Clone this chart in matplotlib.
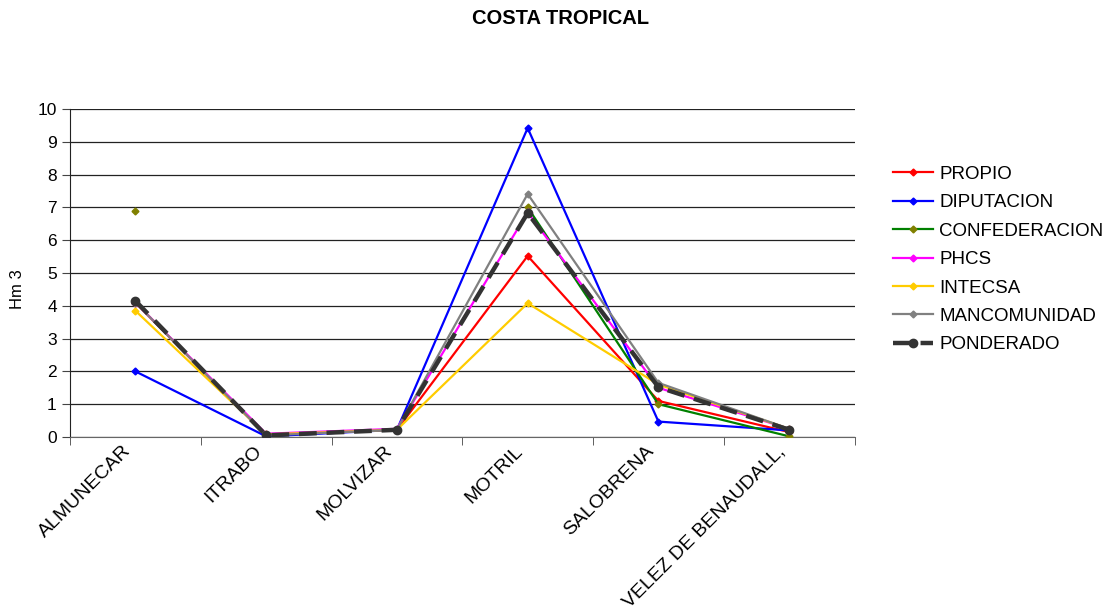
import numpy as np
import matplotlib
matplotlib.use("Agg")
import matplotlib.pyplot as plt
from matplotlib.transforms import ScaledTranslation

plt.rcParams['font.family'] = ['Liberation Sans', 'DejaVu Sans']

nan = np.nan
categories = ["ALMUNECAR", "ITRABO", "MOLVIZAR", "MOTRIL", "SALOBRENA", "VELEZ DE BENAUDALL,"]

propio = [4.10, 0.05, 0.22, 5.52, 1.10, 0.15]
diputacion = [2.00, 0.02, 0.22, 9.42, 0.47, 0.20]
confederacion = [6.88, nan, nan, 7.00, 1.00, 0.02]
phcs = [4.10, 0.10, 0.25, 6.85, 1.50, 0.25]
intecsa = [3.85, 0.08, 0.22, 4.08, 1.60, 0.25]
mancomunidad = [4.10, 0.05, 0.22, 7.41, 1.65, 0.25]
ponderado = [4.15, 0.05, 0.22, 6.83, 1.52, 0.22]

series = [
    ("PROPIO", propio, "#ff0000", "#ff0000"),
    ("DIPUTACION", diputacion, "#0000ff", "#0000ff"),
    ("CONFEDERACION", confederacion, "#008000", "#808000"),
    ("PHCS", phcs, "#ff00ff", "#ff00ff"),
    ("INTECSA", intecsa, "#ffcc00", "#ffcc00"),
    ("MANCOMUNIDAD", mancomunidad, "#808080", "#808080"),
]

fig = plt.figure(figsize=(11.2, 6.1), dpi=100)
ax = fig.add_axes([0.0625, 0.2836, 0.7005, 0.5377])

x = np.arange(len(categories))
for name, vals, lc, mc in series:
    ax.plot(x, vals, color=lc, lw=1.6, marker="D", ms=3.5,
            markerfacecolor=mc, markeredgecolor=mc, label=name, zorder=3)

ax.plot(x, ponderado, color="#333333", lw=3.2, ls=(0, (4, 2.2)), marker="o",
        ms=6, markerfacecolor="#333333", markeredgecolor="#333333",
        label="PONDERADO", zorder=4)

ax.set_xlim(-0.5, len(categories) - 0.5)
ax.set_ylim(0, 10)
ax.set_yticks(np.arange(0, 11, 1))
ax.set_yticklabels([str(v) for v in range(11)], fontsize=12.5)
ax.yaxis.grid(True, color="#222222", lw=0.9)
ax.set_axisbelow(True)

ax.set_xticks(x)
ax.set_xticks(np.arange(-0.5, len(categories), 1), minor=True)
ax.tick_params(axis="x", length=0, pad=4)
ax.tick_params(axis="x", which="minor", length=6, direction="out", color="#444444")
ax.tick_params(axis="y", length=6, direction="out", color="#444444")
ax.set_xticklabels(categories, rotation=45, ha="right", rotation_mode="anchor",
                   fontsize=14)
# nudge the slanted category names left so they end just before each point
shift = ScaledTranslation(-0.13, 0, fig.dpi_scale_trans)
for lbl in ax.get_xticklabels():
    lbl.set_transform(lbl.get_transform() + shift)

for s in ("top", "right"):
    ax.spines[s].set_visible(False)
ax.spines["left"].set_color("#222222")
ax.spines["bottom"].set_color("#666666")

ax.set_ylabel("Hm 3", fontsize=12)
ax.yaxis.set_label_coords(-0.057, 0.45)

fig.suptitle("COSTA TROPICAL", fontsize=14.5, fontweight="bold", x=0.5, y=0.985)

leg = ax.legend(loc="upper left", bbox_to_anchor=(0.797, 0.728),
                bbox_transform=fig.transFigure, frameon=False, borderpad=0,
                borderaxespad=0, fontsize=13.5, handlelength=2.13,
                labelspacing=0.6, handletextpad=0.35)

fig.savefig("out.png", dpi=100)
